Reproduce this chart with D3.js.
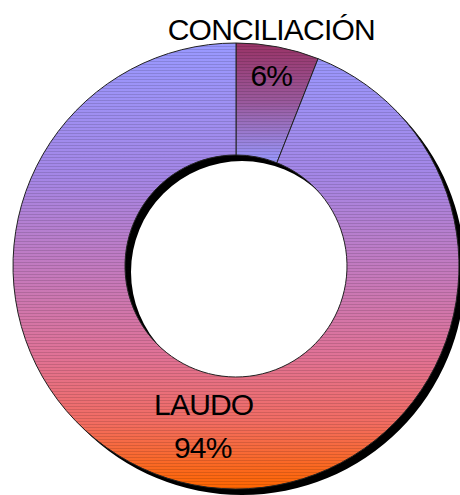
<!DOCTYPE html>
<html>
<head>
<meta charset="utf-8">
<script src="https://cdn.jsdelivr.net/npm/d3@7"></script>
<style>
  html, body { margin: 0; padding: 0; background: #fff; }
  svg { display: block; }
</style>
</head>
<body>
<svg id="chart" width="460" height="495"></svg>
<script>
// slices, clockwise from 12 o'clock
var categories = ["CONCILIACIÓN", "LAUDO"];
var values = [6, 94];

var width = 460;
var height = 495;
var cx = 236;
var cy = 266;
var outerR = 223;
var innerR = 111;

// gradient stops for each slice (top -> bottom)
var sliceStops = [
  [[0, "#993366"], [0.5, "#9a5a9e"], [1, "#9999ff"]],
  [[0, "#9999ff"], [0.3, "#a486e6"], [0.5, "#c27ac0"], [0.7, "#e07296"],
   [0.85, "#f26c62"], [1, "#ff6600"]]
];

var svg = d3.select("#chart");
var defs = svg.append("defs");

// thin horizontal banding like the original bitmap
var pattern = defs.append("pattern")
  .attr("id", "bands")
  .attr("patternUnits", "userSpaceOnUse")
  .attr("width", 8)
  .attr("height", 3);
pattern.append("rect")
  .attr("y", 2)
  .attr("width", 8)
  .attr("height", 1)
  .attr("fill", "#000")
  .attr("fill-opacity", 0.13);

var pie = d3.pie().sort(null).value((d) => d);
var arcs = pie(values);

var arc = d3.arc().innerRadius(innerR).outerRadius(outerR);
var ring = d3.arc().innerRadius(innerR).outerRadius(outerR)
  .startAngle(0).endAngle(2 * Math.PI);

var g = svg.append("g").attr("transform", `translate(${cx},${cy})`);

// drop shadow
g.append("path")
  .attr("d", ring())
  .attr("transform", "translate(6,6)")
  .attr("fill", "#000");

var slices = g.selectAll(".slice")
  .data(arcs)
  .enter()
  .append("g")
  .attr("class", "slice");

slices.append("path")
  .attr("d", arc)
  .each(function (d, i) {
    var box = this.getBBox();
    var grad = defs.append("linearGradient")
      .attr("id", "grad" + i)
      .attr("gradientUnits", "userSpaceOnUse")
      .attr("x1", 0).attr("x2", 0)
      .attr("y1", box.y).attr("y2", box.y + box.height);
    grad.selectAll("stop")
      .data(sliceStops[i])
      .enter()
      .append("stop")
      .attr("offset", (s) => s[0])
      .attr("stop-color", (s) => s[1]);
    d3.select(this).attr("fill", "url(#grad" + i + ")");
  });

slices.append("path")
  .attr("d", arc)
  .attr("fill", "url(#bands)")
  .attr("stroke", "#222")
  .attr("stroke-width", 1);

// labels
var labelArc = d3.arc().innerRadius(167).outerRadius(167);
var total = d3.sum(values);

slices.each(function (d, i) {
  var c = labelArc.centroid(d);
  var pct = Math.round((100 * d.value) / total) + "%";
  var sel = d3.select(this);
  if (d.value / total < 0.1) {
    sel.append("text")
      .attr("x", c[0] + 4)
      .attr("y", -outerR - 3)
      .attr("text-anchor", "middle")
      .text(categories[i]);
    sel.append("text")
      .attr("x", c[0] + 4)
      .attr("y", c[1] - 16)
      .attr("text-anchor", "middle")
      .text(pct);
  } else {
    sel.append("text")
      .attr("x", c[0] - 1)
      .attr("y", c[1] - 15)
      .attr("text-anchor", "middle")
      .text(categories[i]);
    sel.append("text")
      .attr("x", c[0] - 2)
      .attr("y", c[1] + 28)
      .attr("text-anchor", "middle")
      .text(pct);
  }
});

g.selectAll("text")
  .attr("font-family", "'Liberation Sans', Arial, sans-serif")
  .attr("font-size", 30)
  .attr("letter-spacing", -0.8)
  .attr("fill", "#000");
</script>
</body>
</html>
